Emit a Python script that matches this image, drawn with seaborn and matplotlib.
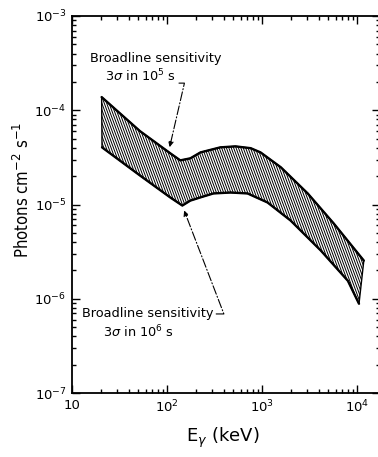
import numpy as np
import matplotlib
matplotlib.use("Agg")
import matplotlib.pyplot as plt
import matplotlib.ticker as mticker
from matplotlib.collections import LineCollection
import seaborn as sns

# upper edge of band: 3 sigma in 1e5 s
energy_hi = [20.5, 52, 108, 138, 176, 225, 364, 525, 760, 966, 1580, 3030, 5700, 11800]
flux_hi = [1.38e-4, 6.0e-5, 3.5e-5, 2.94e-5, 3.09e-5, 3.57e-5, 4.04e-5, 4.14e-5,
           3.96e-5, 3.57e-5, 2.48e-5, 1.31e-5, 6.28e-6, 2.54e-6]

# lower edge of band: 3 sigma in 1e6 s
energy_lo = [20.7, 52, 108, 145, 176, 225, 308, 466, 705, 1145, 2000, 4160, 8020, 10500]
flux_lo = [4.04e-5, 2.03e-5, 1.19e-5, 9.75e-6, 1.10e-5, 1.19e-5, 1.31e-5, 1.34e-5,
           1.31e-5, 1.05e-5, 6.76e-6, 3.25e-6, 1.55e-6, 8.85e-7]

x_ticks = [10, 1e2, 1e3, 1e4]
x_ticklabels = ["10", r"$10^2$", r"$10^3$", r"$10^4$"]
y_ticks = [1e-7, 1e-6, 1e-5, 1e-4, 1e-3]
y_ticklabels = [r"$10^{-7}$", r"$10^{-6}$", r"$10^{-5}$", r"$10^{-4}$", r"$10^{-3}$"]

sns.set_style("ticks")
plt.rcParams["font.family"] = ["DejaVu Sans"]
plt.rcParams["text.color"] = "black"
plt.rcParams["axes.labelcolor"] = "black"
plt.rcParams["xtick.color"] = "black"
plt.rcParams["ytick.color"] = "black"

fig = plt.figure(figsize=(3.78, 4.57), dpi=100)
ax = fig.add_axes([0.1905, 0.140, 0.815, 0.825])
ax.set_xscale("log")
ax.set_yscale("log")

band_x = np.concatenate([energy_hi, energy_lo[::-1]])
band_y = np.concatenate([flux_hi, flux_lo[::-1]])
band = ax.fill(band_x, band_y, facecolor="white", edgecolor="black", linewidth=1.0)[0]

# steep hatching, clipped to the band
starts = np.arange(-0.6, 1.05, 0.0078)
segs = [[(s, 1.0), (s + 0.45, 0.0)] for s in starts]
hatch = LineCollection(segs, colors="black", linewidths=0.7, transform=ax.transAxes)
ax.add_collection(hatch)
hatch.set_clip_path(band)

sns.lineplot(x=energy_hi, y=flux_hi, ax=ax, color="black", linewidth=1.7)
sns.lineplot(x=energy_lo, y=flux_lo, ax=ax, color="black", linewidth=1.7)

ax.set_xlim(10, 1.75e4)
ax.set_ylim(1e-7, 1e-3)
ax.set_xticks(x_ticks)
ax.set_xticklabels(x_ticklabels)
ax.set_yticks(y_ticks)
ax.set_yticklabels(y_ticklabels)
ax.xaxis.set_minor_locator(mticker.LogLocator(base=10, subs=np.arange(2, 10)))
ax.yaxis.set_minor_locator(mticker.LogLocator(base=10, subs=np.arange(2, 10)))
ax.xaxis.set_minor_formatter(mticker.NullFormatter())
ax.yaxis.set_minor_formatter(mticker.NullFormatter())
ax.tick_params(which="both", direction="in", top=True, right=True, color="black", width=1.0)
ax.tick_params(which="major", length=6, labelsize=9.5, pad=4)
ax.tick_params(which="minor", length=3)
for sp in ax.spines.values():
    sp.set_linewidth(1.3)
    sp.set_color("black")

ax.set_xlabel(r"E$_\gamma$ (keV)", fontsize=13)
ax.set_ylabel(r"Photons cm$^{-2}$ s$^{-1}$", fontsize=12, fontstretch="condensed")
ax.xaxis.set_label_coords(0.489, -0.088)
ax.yaxis.set_label_coords(-0.128, 0.538)

arrow_style = dict(arrowstyle="-|>", color="black", lw=0.8, linestyle=(0, (8, 2, 1, 2)),
                   mutation_scale=8)

ax.text(76, 3.57e-4, "Broadline sensitivity", ha="center", va="center", fontsize=9.3)
ax.text(52, 2.3e-4, r"3$\sigma$ in 10$^5$ s", ha="center", va="center", fontsize=9.3)
ax.annotate("", xy=(105, 3.8e-5), xytext=(125, 1.94e-4),
            arrowprops=dict(connectionstyle="angle,angleA=0,angleB=77,rad=0", **arrow_style))

ax.text(63, 6.9e-7, "Broadline sensitivity", ha="center", va="center", fontsize=9.3)
ax.text(50, 4.4e-7, r"3$\sigma$ in 10$^6$ s", ha="center", va="center", fontsize=9.3)
ax.annotate("", xy=(148, 9.2e-6), xytext=(308, 6.9e-7),
            arrowprops=dict(connectionstyle="angle,angleA=0,angleB=-69,rad=0", **arrow_style))

fig.savefig("out.png", dpi=100)
